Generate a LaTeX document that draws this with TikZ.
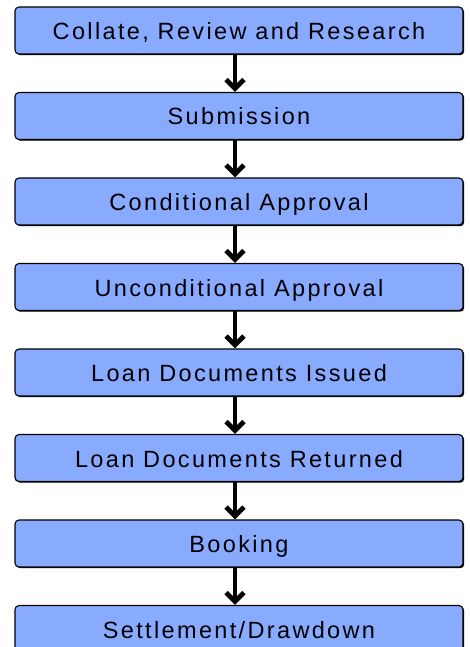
\documentclass[tikz,border=0pt]{standalone}
\usepackage{fontspec}
\setmainfont{Liberation Sans}[LetterSpace=10]
\usepackage{tikz}
\usetikzlibrary{graphs}
\usetikzlibrary{arrows.meta}
\usetikzlibrary{shadows}
\usepackage{xcolor}
\definecolor{stepblue}{HTML}{88AAFF}

\tikzset{
    stage/.style={draw=black, line width=1.1pt, fill=stepblue, rounded corners=4pt,
        minimum width=448pt, minimum height=47pt, inner sep=0pt,
        text height=18pt, text depth=0pt,
        font=\fontsize{23.5}{28}\selectfont,
        drop shadow={shadow xshift=1.2pt, shadow yshift=-1.2pt, opacity=1, fill=black}},
    link/.style={line width=4.8pt, transform canvas={xshift=-4pt}},
    >={Straight Barb[length=9pt, width=18pt]},
}

\begin{document}
\begin{tikzpicture}[x=1pt, y=-1pt]
        \useasboundingbox (0, 0) rectangle (470, 647);

        \node[stage] (collate)    at (239, 30.5)  {Collate, Review and Research};
        \node[stage] (submit)     at (239, 116)   {Submission};
        \node[stage] (condapp)    at (239, 201.5) {Conditional Approval};
        \node[stage] (uncondapp)  at (239, 287)   {Unconditional Approval};
        \node[stage] (docsissued) at (239, 372.5) {Loan Documents Issued};
        \node[stage] (docsback)   at (239, 458)   {Loan Documents Returned};
        \node[stage] (booking)    at (239, 543.5) {Booking};
        \node[stage] (settle)     at (239, 629)   {Settlement/Drawdown};

        \graph[edges=link] {(collate)    -> (submit)};
        \graph[edges=link] {(submit)     -> (condapp)};
        \graph[edges=link] {(condapp)    -> (uncondapp)};
        \graph[edges=link] {(uncondapp)  -> (docsissued)};
        \graph[edges=link] {(docsissued) -> (docsback)};
        \graph[edges=link] {(docsback)   -> (booking)};
        \graph[edges=link] {(booking)    -> (settle)};
    \end{tikzpicture}
\end{document}
